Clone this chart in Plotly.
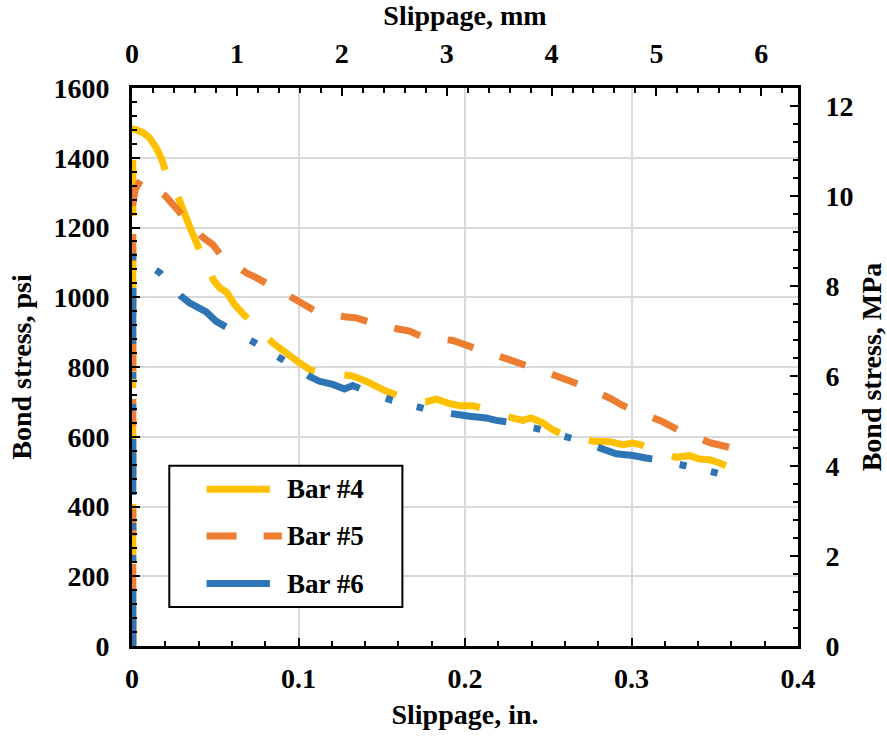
import plotly.graph_objects as go

# ---------------- data (slippage in inches, bond stress in psi) ----------------
bar4_x = [0.0005, 0.0005, 0.0030, 0.0066, 0.0105, 0.0145, 0.0175, 0.0201, 0.0281, 0.0345, 0.0411,
          0.0490, 0.0526, 0.0569, 0.0616, 0.0666, 0.0718, 0.0846, 0.0926, 0.1006, 0.1066, 0.1126,
          0.1317, 0.1407, 0.1506, 0.1607, 0.1763, 0.1827, 0.1907, 0.1967, 0.2047, 0.2117,
          0.2284, 0.2347, 0.2398, 0.2467, 0.2527, 0.2592, 0.2772, 0.2868, 0.2948, 0.3008, 0.3058,
          0.3104, 0.3268, 0.3348, 0.3408, 0.3468, 0.3529, 0.3589]
bar4_y = [0, 1482, 1479, 1472, 1457, 1429, 1400, 1364, 1282, 1204, 1130,
          1049, 1027, 1014, 979, 953, 928, 869, 840, 812, 793, 783,
          775, 759, 735, 716, 700, 708, 695, 689, 689, 680,
          654, 647, 654, 640, 620, 606, 587, 586, 577, 582, 577,
          566, 541, 546, 536, 534, 525, 512]

bar5_x = [0.0005, 0.0005, 0.0020, 0.0055, 0.0201, 0.0305, 0.0425, 0.0485, 0.0536, 0.0686, 0.0746,
          0.0816, 0.0966, 0.1096, 0.1276, 0.1347, 0.1426, 0.1597, 0.1667, 0.1747, 0.1927, 0.2071,
          0.2248, 0.2393, 0.2557, 0.2703, 0.2878, 0.2938, 0.3002, 0.3174, 0.3308, 0.3479, 0.3629]
bar5_y = [0, 1268, 1310, 1338, 1290, 1234, 1172, 1151, 1120, 1070, 1056,
          1038, 998, 962, 944, 941, 929, 909, 903, 886, 876, 852,
          824, 800, 773, 747, 709, 692, 678, 646, 613, 582, 565]

bar6_x = [0.0005, 0.0005, 0.0169, 0.0295, 0.0345, 0.0446, 0.0506, 0.0575, 0.0740, 0.0906, 0.1066,
          0.1126, 0.1206, 0.1276, 0.1326, 0.1386, 0.1563, 0.1753, 0.1937, 0.2027, 0.2127, 0.2187,
          0.2277, 0.2461, 0.2643, 0.2808, 0.2908, 0.3008, 0.3088, 0.3158, 0.3342, 0.3533, 0.3555]
bar6_y = [0, 1120, 1070, 1003, 984, 958, 931, 912, 869, 821, 773,
          759, 750, 737, 747, 735, 704, 681, 665, 659, 654, 647,
          641, 620, 595, 568, 551, 546, 539, 534, 515, 494, 490]

series_names = ["Bar #4", "Bar #5", "Bar #6"]
series_colors = ["#FFC000", "#ED7D31", "#2E75B6"]
series_dash = ["56px,30px", "27px,28px", "56px,28px,7px,25px,7px,28px"]
legend_dash = ["solid", "30px,27px", "solid"]

x_in_ticks = [0, 0.1, 0.2, 0.3, 0.4]
x_in_labels = ["0", "0.1", "0.2", "0.3", "0.4"]
x_mm_range = [0, 6.35]
y_psi_range = [0, 1600]
y_mpa_range = [0, 12.4]

FONT = "Liberation Serif"

fig = go.Figure()
for xs, ys, name, col, dash in zip([bar4_x, bar5_x, bar6_x], [bar4_y, bar5_y, bar6_y],
                                   series_names, series_colors, series_dash):
    fig.add_trace(go.Scatter(x=xs, y=ys, mode="lines", name=name,
                             line=dict(color=col, width=7, dash=dash, simplify=False),
                             showlegend=False, hoverinfo="skip"))

axis_common = dict(showline=True, linecolor="black", linewidth=3, ticks="inside",
                   tickcolor="black", tickwidth=2, ticklen=8, zeroline=False,
                   automargin=False,
                   tickfont=dict(family=FONT, size=28, color="black", weight="bold"))
minor_common = dict(ticks="inside", ticklen=5, tickwidth=2, tickcolor="black", showgrid=False)
title_font = dict(family=FONT, size=28, color="black", weight="bold")

fig.update_layout(
    width=887, height=738,
    margin=dict(l=132, r=89, t=88, b=92, autoexpand=False),
    plot_bgcolor="white", paper_bgcolor="white",
    showlegend=False,
    xaxis=dict(range=[x_in_ticks[0], x_in_ticks[-1]], tickvals=x_in_ticks,
               ticktext=x_in_labels, ticklabelstandoff=5,
               showgrid=True, gridcolor="#D9D9D9", gridwidth=2,
               minor=dict(dtick=0.02, **minor_common),
               title=dict(text="Slippage, in.", font=title_font, standoff=12),
               **axis_common),
    xaxis2=dict(overlaying="x", side="top", range=x_mm_range, dtick=1, tick0=0,
                ticklabelstandoff=11,
                showgrid=False, minor=dict(dtick=0.2, **minor_common),
                title=dict(text="Slippage, mm", font=title_font, standoff=4),
                **axis_common),
    yaxis=dict(range=y_psi_range, dtick=200, tick0=0, ticklabelstandoff=14,
               showgrid=True, gridcolor="#D9D9D9", gridwidth=2,
               minor=dict(dtick=40, **minor_common),
               title=dict(text="Bond stress, psi", font=title_font, standoff=14),
               **axis_common),
    yaxis2=dict(overlaying="y", side="right", range=y_mpa_range, dtick=2, tick0=0,
                ticklabelstandoff=19,
                showgrid=False, minor=dict(dtick=0.4, **minor_common),
                title=dict(text="Bond stress, MPa", font=title_font, standoff=15),
                **axis_common),
)

# invisible anchor trace so the secondary axes are active
fig.add_trace(go.Scatter(x=[None], y=[None], xaxis="x2", yaxis="y2", showlegend=False,
                         hoverinfo="skip", mode="lines"))

# ---------------- legend (drawn as box + samples + labels) ----------------
leg_box = dict(x0=0.056, x1=0.406, y0=0.070, y1=0.323)
leg_rows = [0.281, 0.197, 0.112]
leg_line_x = [(0.112, 0.207), (0.112, 0.225), (0.112, 0.207)]
leg_text_x = 0.230

fig.add_shape(type="rect", xref="paper", yref="paper", **leg_box,
              line=dict(color="black", width=2), fillcolor="white", layer="above")
for yrow, (lx0, lx1), name, col, dash in zip(leg_rows, leg_line_x, series_names,
                                            series_colors, legend_dash):
    fig.add_shape(type="line", xref="paper", yref="paper", x0=lx0, x1=lx1, y0=yrow, y1=yrow,
                  line=dict(color=col, width=7, dash=dash), layer="above")
    fig.add_annotation(xref="paper", yref="paper", x=leg_text_x, y=yrow, text=name,
                       showarrow=False, xanchor="left", yanchor="middle",
                       font=dict(family=FONT, size=27, color="black", weight="bold"))

fig.write_html("out.html")
